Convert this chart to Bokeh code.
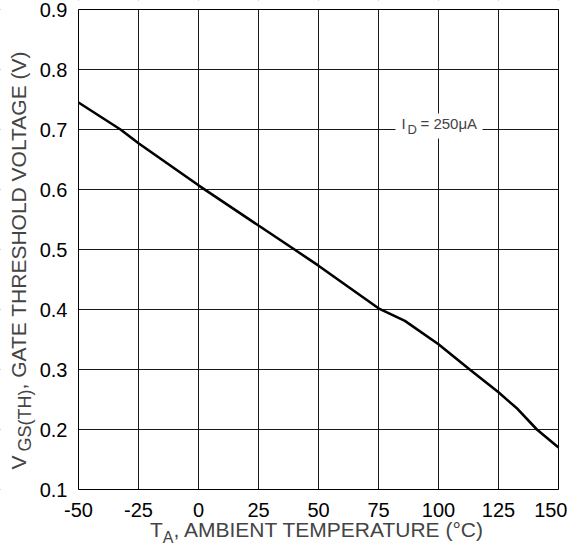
import math
from bokeh.plotting import figure
from bokeh.models import Range1d, FixedTicker, Label, BoxAnnotation
from bokeh.embed import file_html
from bokeh.resources import INLINE

# ---- data ----
temps = [-50, -32.5, -25, 0, 25, 40, 50, 75, 86, 100, 113, 125, 133, 141, 150]
vgs = [0.745, 0.700, 0.677, 0.607, 0.540, 0.500, 0.473, 0.402, 0.381, 0.342, 0.300, 0.262, 0.234, 0.200, 0.170]

x_ticks = [-50, -25, 0, 25, 50, 75, 100, 125, 150]
x_tick_labels = ["-50", "-25", "0", "25", "50", "75", "100", "125", "150"]
y_ticks = [0.1, 0.2, 0.3, 0.4, 0.5, 0.6, 0.7, 0.8, 0.9]
y_tick_labels = ["0.1", "0.2", "0.3", "0.4", "0.5", "0.6", "0.7", "0.8", "0.9"]

x_label_main = ", AMBIENT TEMPERATURE (°C)"
x_label_sym, x_label_sub = "T", "A"
y_label_main = ", GATE THRESHOLD VOLTAGE (V)"
y_label_sym, y_label_sub = "V", "GS(TH)"
cond_sym, cond_sub, cond_val = "I", "D", "= 250μA"

# ---- layout ----
W, H = 567, 546
BL, BR, BT, BB = 78, 9, 9, 57          # visible plot box inside the canvas
X0, X1 = -50, 150
Y0, Y1 = 0.1, 0.9
FW, FH = W - BL - BR, H - BT - BB
FONT = "Liberation Sans"
K = 0.38   # baseline correction (fraction of font size)


def dx(px):
    return X0 + (px - BL) * (X1 - X0) / FW


def dy(py):
    return Y1 - (py - BT) * (Y1 - Y0) / FH


p = figure(width=W, height=H, output_backend="svg", toolbar_location=None, title=None,
           x_range=Range1d(dx(0), dx(W)), y_range=Range1d(dy(H), dy(0)),
           min_border=0)
p.background_fill_color = "white"
p.border_fill_color = "white"
p.outline_line_color = None

p.xaxis.ticker = FixedTicker(ticks=x_ticks)
p.yaxis.ticker = FixedTicker(ticks=y_ticks)
p.xaxis.major_label_overrides = {t: s for t, s in zip(x_ticks, x_tick_labels)}
p.yaxis.major_label_overrides = {t: s for t, s in zip(y_ticks, y_tick_labels)}
p.xaxis.fixed_location = Y0
p.yaxis.fixed_location = X0
for ax in (p.xaxis, p.yaxis):
    ax.axis_line_color = None
    ax.major_tick_line_color = None
    ax.minor_tick_line_color = None
    ax.major_label_text_font = FONT
    ax.major_label_text_font_size = "20px"
    ax.major_label_text_color = "black"
p.xaxis.major_label_standoff = 7
p.yaxis.major_label_standoff = 5

p.xgrid.ticker = FixedTicker(ticks=x_ticks)
p.ygrid.ticker = FixedTicker(ticks=y_ticks)
for g in (p.xgrid, p.ygrid):
    g.grid_line_color = "#1a1a1a"
    g.grid_line_width = 1
    g.grid_line_alpha = 1

# white masks so the grid shows only inside the plot box
for kw in (dict(right=X0), dict(left=X1), dict(top=Y0), dict(bottom=Y1)):
    p.add_layout(BoxAnnotation(fill_color="white", fill_alpha=1, line_alpha=0,
                               level="underlay", **kw))

p.line(temps, vgs, line_color="black", line_width=2.6)

# plot box outline
p.add_layout(BoxAnnotation(left=X0, right=X1, bottom=Y0, top=Y1, fill_alpha=0,
                           line_color="black", line_width=1, line_alpha=1))


def hlabel(text, px, base_py, fs, align):
    p.add_layout(Label(x=dx(px), y=dy(base_py - K * fs), text=text, text_font=FONT,
                       text_font_size=f"{fs}px", text_align=align,
                       text_baseline="alphabetic"))


def vlabel(text, base_px, py, fs, align):
    p.add_layout(Label(x=dx(base_px - K * fs), y=dy(py), text=text, text_font=FONT,
                       angle=math.pi / 2, text_font_size=f"{fs}px", text_align=align,
                       text_baseline="alphabetic"))


# condition label with white background on the grid
p.add_layout(BoxAnnotation(left=dx(395), right=dx(482), top=dy(113), bottom=dy(138),
                           fill_color="white", fill_alpha=1, line_alpha=0))
hlabel(cond_sym, 401, 129, 15, "left")
hlabel(cond_sub, 407, 134, 13, "left")
hlabel(cond_val, 420, 129, 15, "left")

# x axis title
xa = 173
hlabel(x_label_main, xa, 537, 21, "left")
hlabel(x_label_sub, xa, 543, 16, "right")
hlabel(x_label_sym, xa - 10.7, 537, 21, "right")

# y axis title (rotated)
ya = 389
vlabel(y_label_main, 26, ya, 21, "left")
vlabel(y_label_sub, 31.5, ya, 18, "right")
vlabel(y_label_sym, 26, ya + 66, 21, "right")

open("out.html", "w").write(file_html(p, INLINE))
